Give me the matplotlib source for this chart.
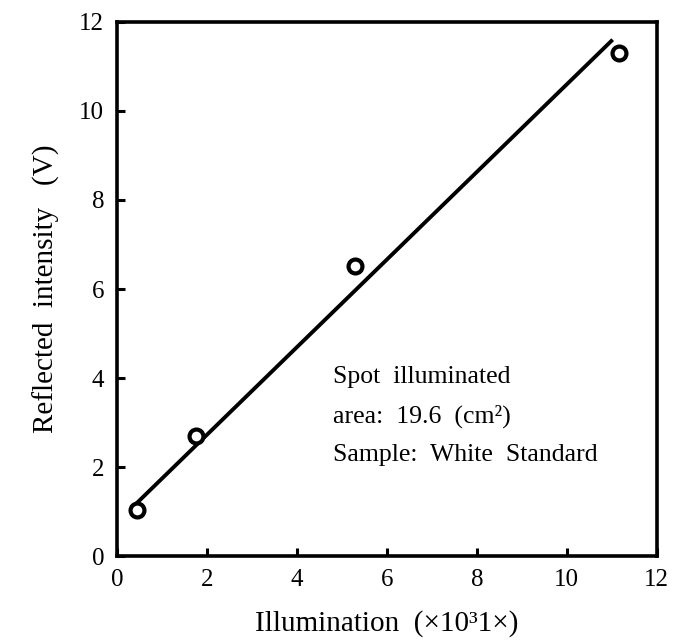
import matplotlib
matplotlib.use("Agg")
from matplotlib import pyplot as plt

# measured points
illum     = [0.45, 1.75, 5.3, 11.15]
intensity = [1.03, 2.7, 6.52, 11.3]

# drawn fit line (end points)
fit_x = [0.33, 11.02]
fit_y = [1.08, 11.6]

ticks = [0, 2, 4, 6, 8, 10, 12]

plt.rcParams['font.family'] = ['Liberation Serif', 'DejaVu Serif']

fig = plt.figure(figsize=(6.75, 6.43), dpi=100)
ax  = fig.add_axes([0.173, 0.135, 0.800, 0.831])

ax.plot(fit_x, fit_y, color='black', linewidth=2.8, solid_capstyle='butt')
ax.plot(illum, intensity, linestyle='none', marker='o', markersize=10,
        markerfacecolor='white', markeredgecolor='black', markeredgewidth=3)

ax.set_xlim(0, 12)
ax.set_ylim(0, 12)
ax.set_xticks(ticks)
ax.set_yticks(ticks)
ax.tick_params(direction='in', length=6, width=2.2, labelsize=18, pad=9)

for s in ax.spines.values():
    s.set_linewidth(2.6)

ax.text(4.8, 4.02, "Spot  illuminated", fontsize=18.5, va='center')
ax.text(4.8, 3.15, "area:  19.6  (cm\u00b2)", fontsize=18.5, va='center')
ax.text(4.8, 2.27, "Sample:  White  Standard", fontsize=18.5, va='center')

ax.set_xlabel("Illumination  (\u00d710\u00b31\u00d7)", fontsize=21, labelpad=14)
ax.set_ylabel("Reflected  intensity   (V)", fontsize=21, labelpad=14)

fig.savefig("out.png", dpi=100)
